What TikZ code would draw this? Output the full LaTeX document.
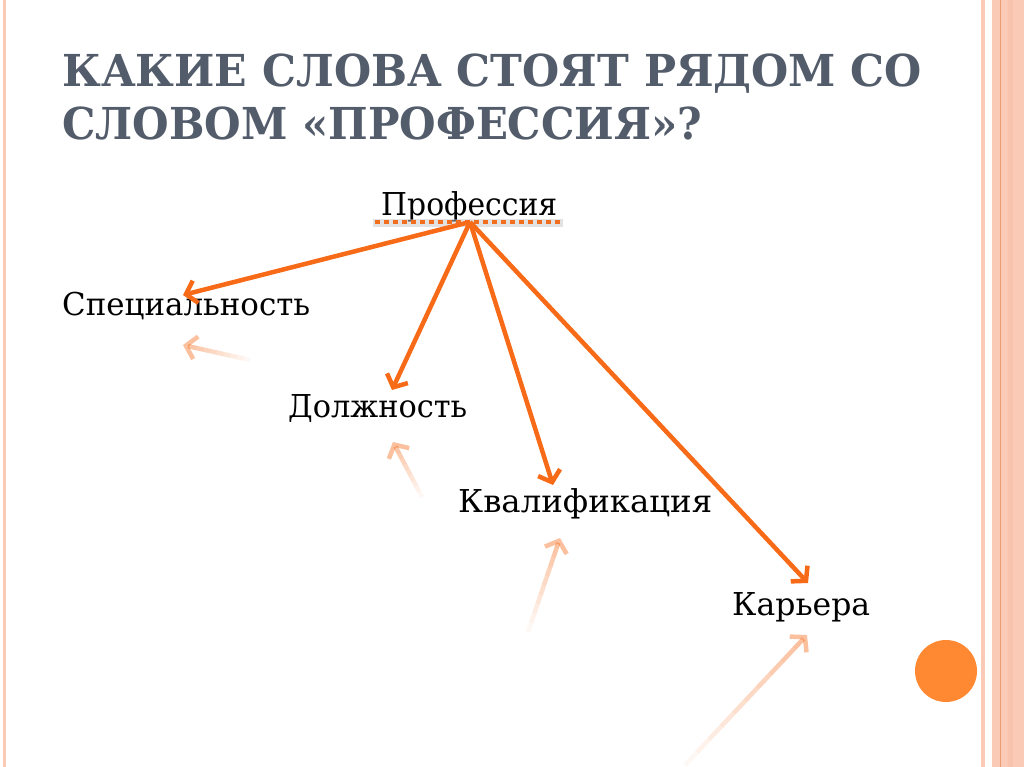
\documentclass[tikz,border=0pt]{standalone}
\usepackage{fontspec}
\setmainfont{DejaVu Serif}
\usetikzlibrary{arrows.meta,calc}
\definecolor{arrowc}{RGB}{247,106,24}
\definecolor{titlec}{RGB}{83,92,106}
\definecolor{stripe}{RGB}{251,202,183}
\definecolor{stripedark}{RGB}{234,158,112}
\definecolor{dotc}{RGB}{240,110,30}
\definecolor{circc}{RGB}{255,136,51}
\tikzset{
  mainarrow/.style={draw=arrowc, line width=4.5pt, -{Straight Barb[length=10pt,width=23pt]}},
  reflseg/.style={draw=arrowc, line width=4.5pt},
  word/.style={anchor=base west, inner sep=0pt, font=\fontsize{31.5}{36}\selectfont, text=black},
  titletext/.style={anchor=base west, inner sep=0pt, font=\fontsize{44}{50}\selectfont\bfseries, text=titlec},
}
\newcommand\myfadearrow[2]{%
  \draw[reflseg, opacity=0.42, {Straight Barb[length=10pt,width=23pt]}-] (#1) -- ($(#1)!0.1!(#2)$);
  \foreach \i in {1,...,9} {
    \pgfmathsetmacro\myA{\i/10}
    \pgfmathsetmacro\myB{(\i+1)/10}
    \pgfmathsetmacro\myOp{0.42*(1-\i/10)}
    \draw[reflseg, opacity=\myOp] ($(#1)!\myA!(#2)$) -- ($(#1)!\myB!(#2)$);
  }
}
\begin{document}
\begin{tikzpicture}[x=1pt,y=-1pt]
\fill[white] (0,0) rectangle (1024,767);
\useasboundingbox (0,0) rectangle (1024,767);
% borders
\fill[stripe] (3,0) rectangle (6,767);
\fill[stripe] (981,0) rectangle (985,767);
\fill[stripe] (992,0) rectangle (1024,767);
\fill[stripedark] (999.5,0) rectangle (1001,767);
\fill[stripedark, opacity=0.15] (1008,0) rectangle (1013,767);
% circle
\fill[circc] (946,671) circle (31);
% title
\node[titletext] (t1) at (62,87) {\resizebox{860pt}{\height}{КАКИЕ СЛОВА СТОЯТ РЯДОМ СО}};
\node[titletext] (t2) at (62,140) {\resizebox{640pt}{\height}{СЛОВОМ «ПРОФЕССИЯ»?}};
% words
\node[word] (prof) at (381,216) {\resizebox{176pt}{\height}{Профессия}};
\node[word] (spec) at (62,315) {\resizebox{248pt}{\height}{Специальность}};
\node[word] (dolzh) at (288,417) {\resizebox{179pt}{\height}{Должность}};
\node[word] (kval) at (458,512) {\resizebox{254pt}{\height}{Квалификация}};
\node[word] (kar) at (732,615) {\resizebox{138pt}{\height}{Карьера}};
% underline
\draw[gray!45, line width=8pt, opacity=0.5] (373,223.5) -- (563,223.5);
\draw[dotc, line width=4pt, dash pattern=on 5pt off 4pt] (375,222.5) -- (561,222.5);
% coordinates
\coordinate (src) at (470,222);
\coordinate (a1) at (183,295);
\coordinate (a2) at (392,390);
\coordinate (a3) at (553,485);
\coordinate (a4) at (808,583);
\coordinate (r1) at (183,345);
\coordinate (e1) at (250,360);
\coordinate (r2) at (393,442);
\coordinate (e2) at (422,497);
\coordinate (r3) at (560,538);
\coordinate (e3) at (528,632);
\coordinate (r4) at (807,635);
\coordinate (e4) at (685,765);
% reflections
\myfadearrow{r1}{e1}
\myfadearrow{r2}{e2}
\myfadearrow{r3}{e3}
\myfadearrow{r4}{e4}
% main arrows
\draw[mainarrow] (src) -- (a1);
\draw[mainarrow] (src) -- (a2);
\draw[mainarrow] (src) -- (a3);
\draw[mainarrow] (src) -- (a4);
\end{tikzpicture}
\end{document}
